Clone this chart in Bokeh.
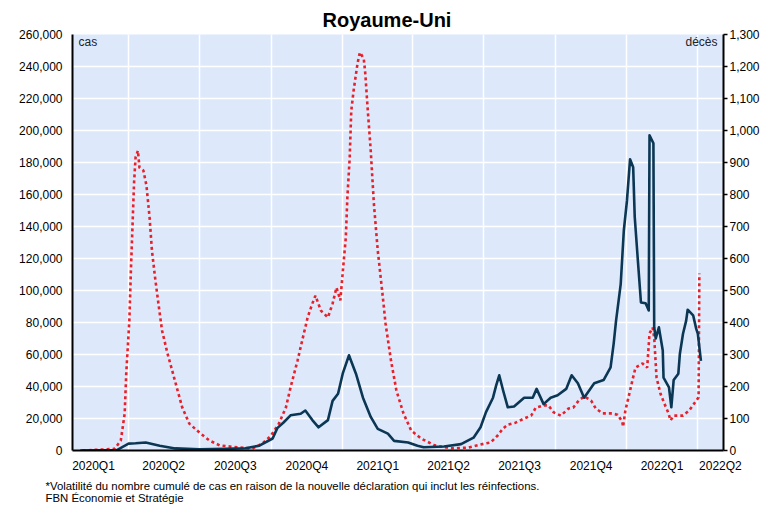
import pandas as pd
from bokeh.plotting import figure
from bokeh.models import Range1d, LinearAxis, FixedTicker, NumeralTickFormatter, Title, Label
from bokeh.embed import file_html
from bokeh.resources import INLINE

# ---------------- data ----------------
case_dates = ["2020-01-30","2020-03-17","2020-04-01","2020-04-10","2020-04-23","2020-05-11","2020-05-31",
              "2020-07-01","2020-08-04","2020-08-29","2020-09-16","2020-10-03","2020-10-09","2020-10-17",
              "2020-10-26","2020-11-08","2020-11-14","2020-11-23","2020-12-01","2020-12-13","2020-12-19",
              "2020-12-26","2021-01-01","2021-01-09","2021-01-18","2021-01-27","2021-02-06","2021-02-15",
              "2021-02-28","2021-03-08","2021-03-26","2021-04-07","2021-04-15","2021-05-11","2021-06-02",
              "2021-06-18","2021-06-27","2021-07-04","2021-07-13","2021-07-17","2021-07-21","2021-07-26",
              "2021-08-01","2021-08-09","2021-08-22","2021-09-02","2021-09-07","2021-09-16","2021-09-25",
              "2021-10-04","2021-10-15","2021-10-22","2021-10-30","2021-11-07","2021-11-20","2021-12-02",
              "2021-12-11","2021-12-15","2021-12-18","2021-12-24","2021-12-28","2022-01-01","2022-01-05",
              "2022-01-09","2022-01-11","2022-01-15","2022-01-19","2022-01-25","2022-01-29","2022-01-30",
              "2022-02-04","2022-02-05","2022-02-07","2022-02-11","2022-02-16","2022-02-17","2022-02-24",
              "2022-02-27","2022-03-02","2022-03-08","2022-03-10","2022-03-14","2022-03-18","2022-03-20",
              "2022-03-27","2022-03-31","2022-04-02","2022-04-06"]
cases = [0, 300, 4300, 4500, 5000, 3000, 1300, 800, 1000, 1400, 3000, 7500, 14000, 17500, 22000, 23000,
         25000, 19000, 14500, 19000, 31000, 35500, 48000, 59500, 48000, 33000, 21000, 13500, 10500, 6000,
         5000, 3000, 2000, 2500, 4000, 8000, 14500, 24000, 33000, 40500, 47000, 37500, 27000, 27500, 33000,
         33000, 38500, 29000, 33000, 34500, 38500, 47000, 42000, 33000, 42000, 44000, 52000, 67000, 81000,
         104000, 137500, 156000, 182000, 177000, 146000, 119000, 92500, 92000, 87500, 197000, 192000, 77000,
         70000, 77000, 62500, 45500, 39500, 27000, 44000, 48000, 60500, 73000, 81000, 88000, 84500, 76000,
         73000, 56000]

death_dates = ["2020-02-02","2020-03-14","2020-03-22","2020-03-27","2020-03-29","2020-04-02","2020-04-04",
               "2020-04-06","2020-04-08","2020-04-10","2020-04-13","2020-04-15","2020-04-20","2020-04-24",
               "2020-04-28","2020-05-01","2020-05-05","2020-05-10","2020-05-14","2020-05-21","2020-05-27",
               "2020-06-03","2020-06-09","2020-06-18","2020-07-01","2020-07-14","2020-07-27","2020-08-22",
               "2020-09-07","2020-09-20","2020-09-30","2020-10-11","2020-10-20","2020-10-26","2020-11-04",
               "2020-11-10","2020-11-17","2020-11-23","2020-11-27","2020-12-04","2020-12-13","2020-12-19",
               "2020-12-24","2020-12-29","2021-01-01","2021-01-05","2021-01-07","2021-01-10","2021-01-12",
               "2021-01-15","2021-01-20","2021-01-23","2021-01-28","2021-01-30","2021-02-02","2021-02-06",
               "2021-02-10","2021-02-15","2021-02-21","2021-02-25","2021-03-04","2021-03-11","2021-03-20",
               "2021-03-30","2021-04-12","2021-04-29","2021-05-20","2021-06-11","2021-06-27","2021-07-10",
               "2021-07-19","2021-07-26","2021-08-01","2021-08-11","2021-08-22","2021-08-31","2021-09-06",
               "2021-09-16","2021-09-22","2021-09-29","2021-10-08","2021-10-18","2021-10-24","2021-10-31",
               "2021-11-07","2021-11-16","2021-11-22","2021-12-01","2021-12-11","2021-12-20","2021-12-26",
               "2021-12-27","2021-12-30","2022-01-03","2022-01-08","2022-01-12","2022-01-21","2022-01-27",
               "2022-01-30","2022-02-03","2022-02-05","2022-02-08","2022-02-13","2022-02-18","2022-02-23",
               "2022-02-26","2022-03-02","2022-03-14","2022-03-22","2022-03-31","2022-04-03","2022-04-04"]
deaths = [0, 5, 31, 115, 240, 406, 562, 697, 834, 916,
          937, 884, 875, 828, 728, 625, 541, 447, 375, 303,
          250, 187, 134, 84, 56, 31, 16, 9, 6, 22,
          44, 84, 134, 197, 281, 344, 416, 459, 484, 437,
          416, 459, 509, 469, 556, 666, 791, 916, 1062, 1125,
          1209, 1244, 1225, 1178, 1069, 937, 772, 625, 491, 397,
          281, 187, 116, 62, 37, 16, 7, 9, 19, 25,
          47, 69, 81, 87, 100, 109, 134, 141, 141, 119,
          109, 131, 134, 156, 169, 156, 131, 116, 116, 112,
          90, 74, 125, 166, 219, 259, 272, 259, 366, 384,
          353, 228, 178, 147, 119, 94, 109, 109, 125, 156,
          166, 553]

quarter_labels = ["2020Q1", "2020Q2", "2020Q3", "2020Q4", "2021Q1",
                  "2021Q2", "2021Q3", "2021Q4", "2022Q1", "2022Q2"]
cases_ticks = list(range(0, 260001, 20000))
deaths_ticks = list(range(0, 1301, 100))

title_text = "Royaume-Uni"
left_unit = "cas"
right_unit = "décès"
note1 = "*Volatilité du nombre cumulé de cas en raison de la nouvelle déclaration qui inclut les réinfections."
note2 = "FBN Économie et Stratégie"

# ---------------- helpers ----------------
origin = pd.Timestamp("2020-01-01")


def days(d):
    return int((pd.Timestamp(d) - origin).days)


cx = [days(d) for d in case_dates]
dx = [days(d) for d in death_dates]

x_start = days("2020-01-20")
x_end = days("2022-05-05")

periods = pd.period_range(quarter_labels[0], quarter_labels[-1], freq="Q")
q_start = [days(p.start_time) for p in periods]
q_end = [days(p.end_time.normalize() + pd.Timedelta(days=1)) for p in periods]
mids = [int(round((a + b) / 2)) for a, b in zip(q_start, q_end)]
mids[-1] = min(mids[-1], x_end - 4)
boundaries = q_start[1:]

FONT = "Liberation Sans"
BG = "#dde9fb"
NAVY = "#0b3754"
RED = "#e8202a"

p = figure(width=764, height=508, output_backend="svg", toolbar_location=None,
           x_range=Range1d(x_start, x_end), y_range=Range1d(0, 260000),
           min_border_left=72, min_border_right=41, min_border_top=34, min_border_bottom=58)
p.extra_y_ranges = {"deaths": Range1d(0, 1300)}

p.background_fill_color = BG
p.border_fill_color = "white"
p.outline_line_color = None

# title
p.title.text = title_text
p.title.align = "left"
p.title.text_font = FONT
p.title.text_font_size = "20px"
p.title.text_font_style = "bold"
p.title.text_color = "black"
p.title.offset = 250
p.title.standoff = 8

# grids
p.xgrid.ticker = FixedTicker(ticks=boundaries)
p.ygrid.ticker = FixedTicker(ticks=cases_ticks)
p.xgrid.grid_line_color = "white"
p.ygrid.grid_line_color = "white"
p.xgrid.grid_line_width = 1.5
p.ygrid.grid_line_width = 1.5

# x axis
xa = p.xaxis[0]
xa.ticker = FixedTicker(ticks=mids)
xa.major_label_overrides = {m: lab for m, lab in zip(mids, quarter_labels)}
xa.major_tick_line_color = None
xa.minor_tick_line_color = None
xa.axis_line_color = "black"
xa.axis_line_width = 2
xa.major_label_text_font = FONT
xa.major_label_text_font_size = "12px"
xa.major_label_text_color = "black"
xa.major_label_standoff = 2

# left axis
ya = p.yaxis[0]
ya.ticker = FixedTicker(ticks=cases_ticks)
ya.formatter = NumeralTickFormatter(format="0,0")
ya.major_tick_line_color = None
ya.minor_tick_line_color = None
ya.axis_line_color = "black"
ya.axis_line_width = 2
ya.major_label_text_font = FONT
ya.major_label_text_font_size = "12px"
ya.major_label_text_color = "black"
ya.major_label_standoff = 4

# right axis
ra = LinearAxis(y_range_name="deaths", ticker=FixedTicker(ticks=deaths_ticks),
                formatter=NumeralTickFormatter(format="0,0"))
ra.major_tick_in = 0
ra.major_tick_out = 4
ra.major_tick_line_color = "black"
ra.major_tick_line_width = 1.5
ra.minor_tick_line_color = None
ra.axis_line_color = "black"
ra.axis_line_width = 2
ra.major_label_text_font = FONT
ra.major_label_text_font_size = "12px"
ra.major_label_text_color = "black"
ra.major_label_standoff = 2
p.add_layout(ra, "right")

# series
p.line(dx, deaths, y_range_name="deaths", line_color=RED, line_width=2.6,
       line_dash="3 3", line_cap="butt")
p.line(cx, cases, line_color=NAVY, line_width=2.6, line_join="round")

# unit labels
p.add_layout(Label(x=x_start, y=260000, x_offset=6, y_offset=0, text=left_unit,
                   text_align="left", text_baseline="top", text_font=FONT,
                   text_font_size="12px", text_color="#222222"))
p.add_layout(Label(x=x_end, y=1300, y_range_name="deaths", x_offset=-6, y_offset=0,
                   text=right_unit, text_align="right", text_baseline="top", text_font=FONT,
                   text_font_size="12px", text_color="#222222"))

# footnotes
foot = Title(text=note1 + "\n" + note2, align="left", text_font=FONT, text_font_size="11.4px",
             text_font_style="normal", text_color="black", offset=-27, standoff=4)
p.add_layout(foot, "below")

open("out.html", "w").write(file_html(p, INLINE))
